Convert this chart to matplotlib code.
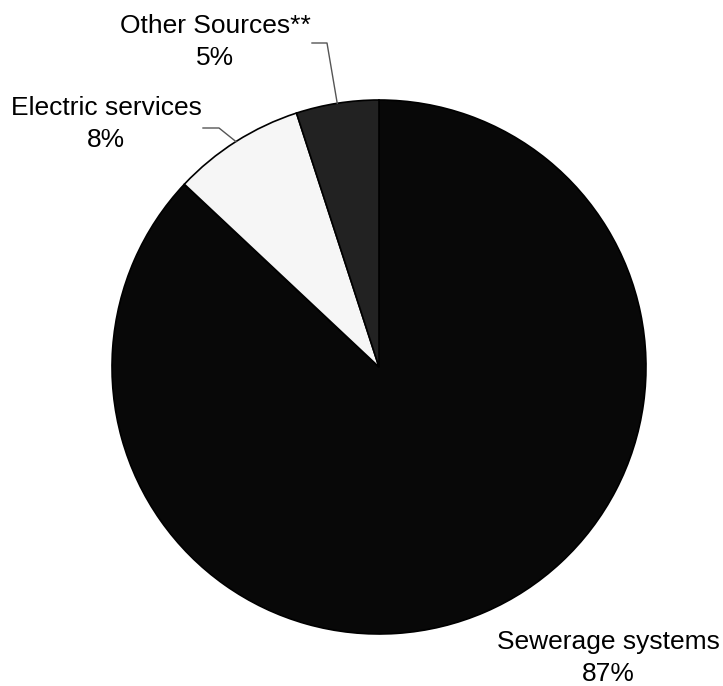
import numpy as np
import matplotlib
matplotlib.use("Agg")
import matplotlib.pyplot as plt

plt.rcParams['font.family'] = ['Liberation Sans', 'DejaVu Sans']

# data
categories = ["Sewerage systems", "Electric services", "Other Sources**"]
shares = [87, 8, 5]
colors = ["#080808", "#f6f6f6", "#222222"]

W, H = 723, 686
fig = plt.figure(figsize=(W / 100, H / 100), dpi=100)
ax = fig.add_axes([0, 0, 1, 1])

cx, cy, r = 379, 367, 267
# y axis is inverted, so counterclock=True here draws clockwise on screen
wedges, _ = ax.pie(shares, colors=colors, startangle=-90, counterclock=True,
                   center=(cx, cy), radius=r, frame=True,
                   wedgeprops=dict(edgecolor="black", linewidth=1.2))
ax.set_xlim(0, W)
ax.set_ylim(H, 0)  # pixel coords, y down
ax.axis("off")

# label placement (layout only)
label_pos = {
    "Sewerage systems": (608, 658),
    "Electric services": (106, 124),
    "Other Sources**": (215, 42),
}
leader_start = {
    "Electric services": [(203, 128), (219, 128)],
    "Other Sources**": [(312, 43), (327, 43)],
}

for w, name, val in zip(wedges, categories, shares):
    x, y = label_pos[name]
    ax.text(x, y, f"{name}\n{val}%", ha="center", va="center",
            fontsize=19, color="black", linespacing=1.45)
    if name in leader_start:
        ang = np.deg2rad((w.theta1 + w.theta2) / 2)
        ex, ey = cx + r * np.cos(ang), cy + r * np.sin(ang)
        pts = leader_start[name] + [(ex, ey)]
        xs, ys = zip(*pts)
        ax.plot(xs, ys, color="#555555", lw=1)

fig.savefig("out.png", dpi=100)
